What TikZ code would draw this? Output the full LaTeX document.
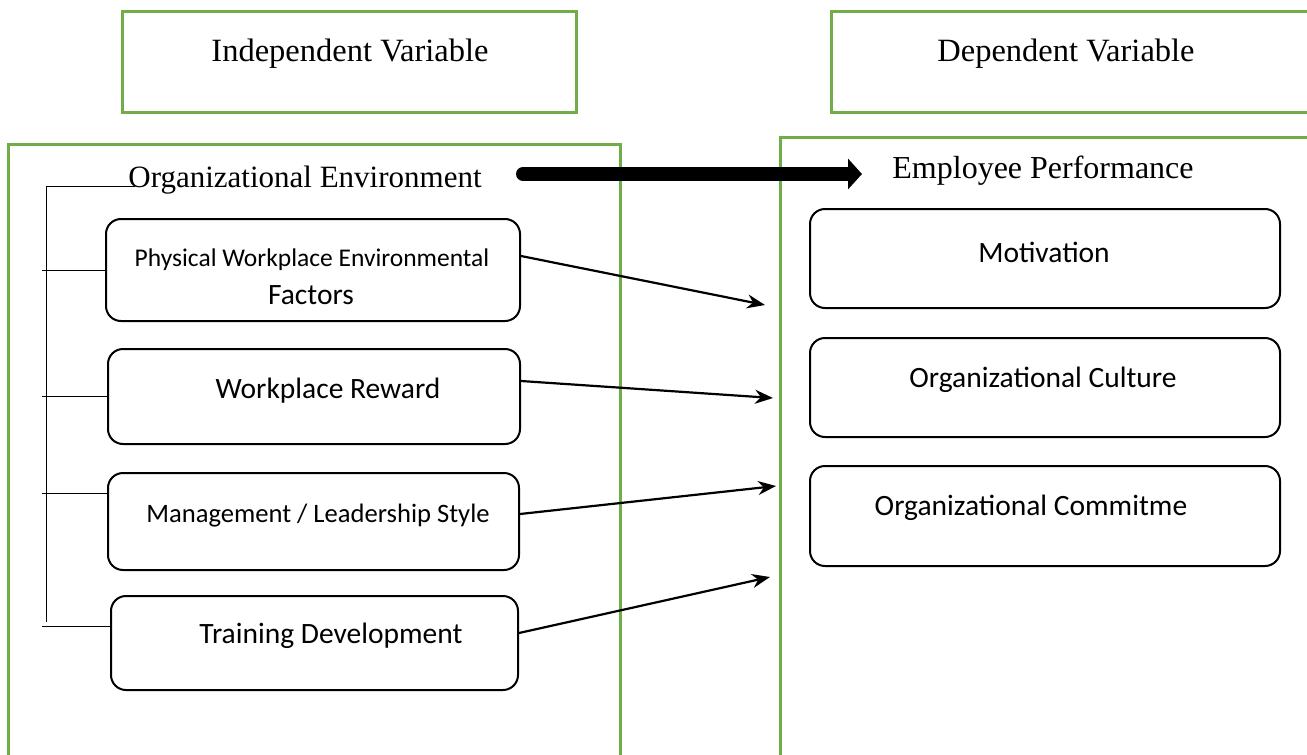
\documentclass[tikz,border=0pt]{standalone}
\usepackage{fontspec}
\setmainfont{Liberation Serif}
\newfontfamily\calfont{Carlito}
\usetikzlibrary{arrows.meta,calc}
\definecolor{grn}{RGB}{112,173,71}
\begin{document}
\begin{tikzpicture}[x=1pt,y=-1pt,
  greenline/.style={draw=grn,line width=3pt},
  rbox/.style={draw=black,line width=2pt,rounded corners=15pt,inner sep=0pt},
  serif/.style={font=\fontsize{32.5}{38}\selectfont,inner sep=0pt},
  sansbig/.style={font=\calfont\fontsize{29.5}{34}\selectfont,inner sep=0pt},
  thin/.style={draw=black,line width=1pt},
  conn/.style={draw=black,line width=2.2pt,-{Stealth[length=18pt,width=14pt]}},
  bigarrow/.style={draw=black,line width=14pt,line cap=round,-{Triangle[length=14pt,width=30pt]}}]
\useasboundingbox (0,0) rectangle (1307,755);
% header boxes
\draw[greenline] (122,11) rectangle (576,112);
\node[serif] (iv) at (350,53.5) {Independent Variable};
\draw[greenline] (1310,11) -- (831,11) -- (831,112) -- (1310,112);
\node[serif] (dv) at (1066,53.5) {Dependent Variable};
% containers
\draw[greenline] (8,758) -- (8,144) -- (620,144) -- (620,758);
\draw[greenline] (780,758) -- (780,137) -- (1310,137);
\node[serif,font=\fontsize{31}{36}\selectfont] (oe) at (305,180) {Organizational Environment};
\node[serif,font=\fontsize{32}{37}\selectfont] (ep) at (1043,171) {Employee Performance};
% big arrow
\coordinate (ba) at (523,174);
\coordinate (bb) at (862,174);
\draw[bigarrow] (ba) -- (bb);
% left boxes
\node[rbox,minimum width=414pt,minimum height=102pt] (b1) at (313,270) {};
\node[rbox,minimum width=412pt,minimum height=95pt] (b2) at (314,396.5) {};
\node[rbox,minimum width=411pt,minimum height=97pt] (b3) at (313.5,521.5) {};
\node[rbox,minimum width=407pt,minimum height=94pt] (b4) at (314.5,643) {};
\node[sansbig,font=\calfont\fontsize{25.5}{30}\selectfont] (t1a) at (312,260) {Physical Workplace Environmental};
\node[sansbig] (t1b) at (311,295) {Factors};
\node[sansbig] (t2) at (328,391) {Workplace Reward};
\node[sansbig,font=\calfont\fontsize{26.6}{31}\selectfont] (t3) at (318,516) {Management / Leadership Style};
\node[sansbig] (t4) at (331,636) {Training Development};
% right boxes
\node[rbox,minimum width=470pt,minimum height=99pt] (m) at (1045,258.5) {};
\node[rbox,minimum width=470pt,minimum height=99pt] (c) at (1045,387.5) {};
\node[rbox,minimum width=470pt,minimum height=100pt] (k) at (1045,516) {};
\node[sansbig] (tm) at (1044,252) {Motivation};
\node[sansbig] (tc) at (1043,380) {Organizational Culture};
\node[sansbig] (tk) at (1031,508) {Organizational Commitme};
% bracket
\coordinate (q0) at (46,186);
\coordinate (q1) at (135,186);
\coordinate (q2) at (46,622);
\draw[thin] (q1) -- (q0) -- (q2);
\coordinate (k1) at (42,270);
\coordinate (k2) at (42,396.5);
\coordinate (k3) at (42,493);
\coordinate (k4) at (42,626);
\draw[thin] (k1) -- (b1.west);
\draw[thin] (k2) -- (b2.west);
\draw[thin] (k3) -- (b3.west |- k3);
\draw[thin] (k4) -- (b4.west |- k4);
% connectors
\coordinate (e1) at (765,305);
\coordinate (e2) at (773,398);
\coordinate (e3) at (776,486);
\coordinate (e4) at (770,577);
\draw[conn] ([yshift=14pt]b1.east) -- (e1);
\draw[conn] ([yshift=15.5pt]b2.east) -- (e2);
\draw[conn] ([yshift=7.5pt]b3.east) -- (e3);
\draw[conn] ([yshift=10pt]b4.east) -- (e4);
\end{tikzpicture}
\end{document}
